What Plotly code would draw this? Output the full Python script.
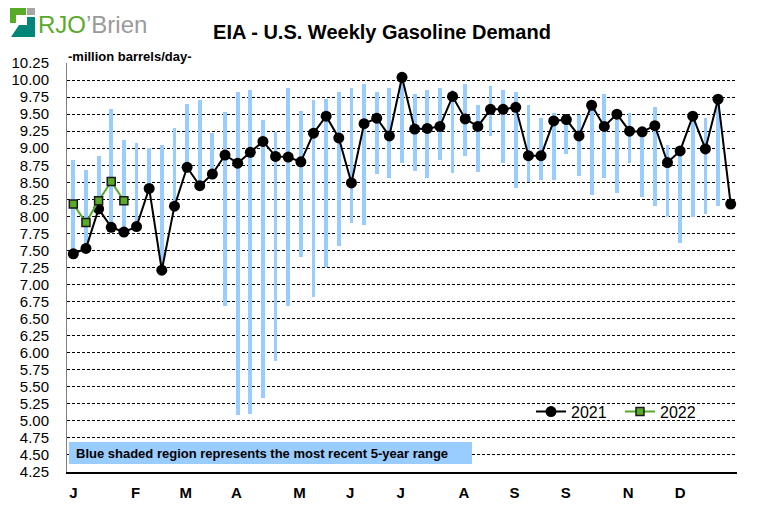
import plotly.graph_objects as go

# ---------------- data ----------------
weeks = list(range(53))

demand_2021 = [7.45, 7.53, 8.11, 7.84, 7.77, 7.85, 8.41, 7.21, 8.15, 8.72,
               8.45, 8.62, 8.90, 8.78, 8.94, 9.10, 8.88, 8.87, 8.80, 9.22,
               9.47, 9.15, 8.49, 9.36, 9.44, 9.18, 10.04, 9.28, 9.29, 9.32,
               9.76, 9.43, 9.32, 9.57, 9.57, 9.60, 8.89, 8.89, 9.40, 9.42,
               9.18, 9.63, 9.32, 9.50, 9.25, 9.24, 9.33, 8.79, 8.96, 9.47,
               8.99, 9.72, 8.18]

demand_2022 = [8.18, 7.91, 8.23, 8.51, 8.23]

range_high = [8.82, 8.68, 8.88, 9.57, 9.12, 9.07, 9.01, 9.04, 9.29, 9.65,
              9.70, 9.22, 9.53, 9.82, 9.86, 9.42, 9.24, 9.88, 9.54, 9.70,
              9.72, 9.83, 9.88, 9.94, 9.82, 9.88, 9.95, 9.79, 9.85, 9.88,
              9.85, 9.94, 9.63, 9.91, 9.85, 9.82, 9.63, 9.45, 9.52, 9.45,
              9.48, 9.63, 9.79, 9.52, 9.51, 9.25, 9.60, 9.04, 8.98, 9.47,
              9.44, 9.70, None]

range_low = [7.50, 7.55, 8.10, 7.87, 7.80, 7.88, 8.45, 7.26, 8.17, 8.74,
             8.47, 8.64, 6.68, 5.09, 5.10, 5.34, 5.88, 6.69, 7.41, 6.81,
             7.26, 7.57, 7.91, 7.88, 8.62, 8.57, 8.78, 8.66, 8.56, 8.82,
             8.63, 8.89, 8.65, 9.18, 8.79, 8.41, 8.50, 8.53, 8.54, 8.91,
             8.59, 8.31, 8.56, 8.35, 8.78, 8.28, 8.15, 7.99, 7.61, 7.99,
             8.04, 8.15, None]

month_tick_pos = [0, 4.93, 8.9, 12.9, 17.9, 21.9, 25.9, 30.9, 34.9, 38.95, 43.9, 48]
month_labels = ["J", "F", "M", "A", "M", "J", "J", "A", "S", "S", "N", "D"]

title_text = "EIA - U.S. Weekly Gasoline Demand"
unit_text = "-million barrels/day-"
note_text = "Blue shaded region represents the most recent 5-year range"

# ---------------- layout geometry ----------------
# the page body adds an 8px margin, so the figure is drawn 8px smaller
OFF = 8
W, H = 763 - OFF, 516 - OFF
ML, MR, MT, MB = 67 - OFF, 26, 63 - OFF, 44
PW, PH = W - ML - MR, H - MT - MB
PLOT_LEFT, PLOT_BOTTOM = 67, 472   # window pixel coords of plot corner


def xp(px):
    return (px - PLOT_LEFT) / PW


def yp(py):
    return (PLOT_BOTTOM - py) / PH


span = [None if (h is None or l is None) else h - l for h, l in zip(range_high, range_low)]

fig = go.Figure()

fig.add_trace(go.Bar(
    x=weeks, y=span, base=range_low, width=0.3,
    marker=dict(color="#99CCFF", line=dict(width=0)),
    showlegend=False, hoverinfo="skip",
))

fig.add_trace(go.Scatter(
    x=weeks, y=demand_2021, mode="lines+markers", name="2021",
    line=dict(color="black", width=2),
    marker=dict(symbol="circle", size=11, color="black"),
))

fig.add_trace(go.Scatter(
    x=weeks[:len(demand_2022)], y=demand_2022, mode="lines+markers", name="2022",
    line=dict(color="#5aaa2a", width=2),
    marker=dict(symbol="square", size=8, color="#5aaa2a",
                line=dict(color="#1a1a1a", width=1.5)),
))

font_main = "Arial, Liberation Sans, sans-serif"

fig.update_layout(
    width=W, height=H,
    margin=dict(l=ML, r=MR, t=MT, b=MB, pad=0, autoexpand=False),
    paper_bgcolor="white", plot_bgcolor="white",
    font=dict(family=font_main, color="black"),
    bargap=0,
    title=dict(text="<b>" + title_text + "</b>", x=(382 - OFF) / W, xanchor="center",
               y=1 - (32 - OFF) / H, yanchor="middle", automargin=False,
               font=dict(size=20, family=font_main, color="black")),
    legend=dict(orientation="h", x=xp(531), xanchor="left", y=yp(411.7),
                yanchor="middle", bgcolor="rgba(0,0,0,0)",
                font=dict(size=16, family=font_main, color="black"),
                itemwidth=30, tracegroupgap=0,
                entrywidth=44, entrywidthmode="pixels"),
    xaxis=dict(range=[-0.5, 52.5], tickmode="array", tickvals=month_tick_pos,
               ticktext=["<b>" + m + "</b>" for m in month_labels],
               tickfont=dict(size=15, family=font_main, color="black"),
               showgrid=False, zeroline=False, showline=True,
               linecolor="black", linewidth=1.5, ticks="",
               ticklabelstandoff=6, automargin=False),
    yaxis=dict(range=[4.25, 10.25], tick0=4.25, dtick=0.25, tickformat=".2f",
               tickfont=dict(size=15, family=font_main, color="black"),
               showgrid=True, gridcolor="black", gridwidth=1, griddash="3px,2px",
               zeroline=False, showline=True, linecolor="#808080", linewidth=1,
               ticks="", ticklabelstandoff=14, automargin=False),
)

# light-blue note box
fig.add_shape(type="rect", xref="paper", yref="paper",
              x0=xp(69), x1=xp(472), y0=yp(464), y1=yp(442),
              fillcolor="#99CCFF", line=dict(width=0), layer="above")
fig.add_annotation(xref="paper", yref="paper", x=xp(74), y=yp(453),
                   xanchor="left", yanchor="middle", showarrow=False,
                   text="<b>" + note_text + "</b>",
                   font=dict(size=13, family=font_main, color="black"))

# units label
fig.add_annotation(xref="paper", yref="paper", x=xp(66), y=yp(56.5),
                   xanchor="left", yanchor="middle", showarrow=False,
                   text="<b>" + unit_text + "</b>",
                   font=dict(size=13, family=font_main, color="black"))

# logo
fig.add_shape(type="rect", xref="paper", yref="paper",
              x0=xp(10), x1=xp(26), y0=yp(23), y1=yp(8),
              fillcolor="#5aaa2a", line=dict(width=0))
fig.add_shape(type="rect", xref="paper", yref="paper",
              x0=xp(16), x1=xp(26), y0=yp(23), y1=yp(15),
              fillcolor="white", line=dict(width=0))
fig.add_shape(type="rect", xref="paper", yref="paper",
              x0=xp(27), x1=xp(35), y0=yp(15), y1=yp(8),
              fillcolor="#a6a6a6", line=dict(width=0))
path = "M {} {} L {} {} L {} {} L {} {} L {} {} L {} {} Z".format(
    xp(27), yp(17), xp(35), yp(17), xp(35), yp(37),
    xp(11), yp(37), xp(19), yp(25), xp(27), yp(25))
fig.add_shape(type="path", xref="paper", yref="paper", path=path,
              fillcolor="#00857a", line=dict(width=0))
fig.add_annotation(xref="paper", yref="paper", x=xp(36), y=yp(25),
                   xanchor="left", yanchor="middle", showarrow=False,
                   text="<span style='color:#5aaa2a'>RJO</span>"
                        "<span style='color:#9a9a9a'>\u2019Brien</span>",
                   font=dict(size=24, family="Liberation Sans Narrow, Arial Narrow, Liberation Sans, sans-serif"))

fig.write_html("out.html")
